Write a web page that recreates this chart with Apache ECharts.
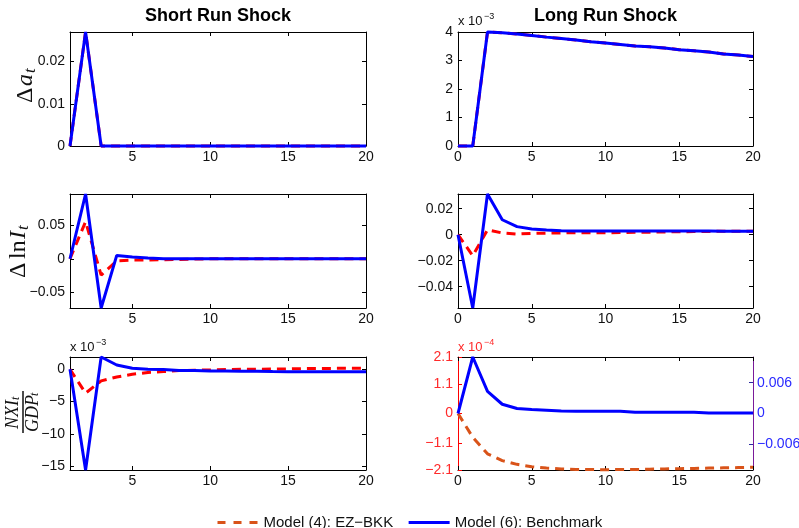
<!DOCTYPE html>
<html><head><meta charset="utf-8">
<script src="https://cdn.jsdelivr.net/npm/echarts@6/dist/echarts.min.js"></script>
<style>html,body{margin:0;padding:0;background:#fff}#c{width:799px;height:528px}</style>
</head><body><div id="c"></div>
<script>
// ---- data ----
const tShort = [1,2,3,4,5,6,7,8,9,10,11,12,13,14,15,16,17,18,19,20];
const tLong = [0,1,2,3,4,5,6,7,8,9,10,11,12,13,14,15,16,17,18,19,20];
const seriesNames = ['Model (4): EZ\u2212BKK', 'Model (6): Benchmark'];
const panelTitles = ['Short Run Shock', 'Long Run Shock'];

const aShortEZ    = [0,0.027,0,0,0,0,0,0,0,0,0,0,0,0,0,0,0,0,0,0];
const aShortBench = [0,0.027,0,0,0,0,0,0,0,0,0,0,0,0,0,0,0,0,0,0];
const aLongEZ     = [0,0,0.0040,0.00397,0.00393,0.00388,0.00382,0.00377,0.00372,0.00366,0.00361,0.00356,0.00351,0.00348,0.00344,0.00338,0.00334,0.00330,0.00323,0.00319,0.00314];
const aLongBench  = [0,0,0.0040,0.00397,0.00393,0.00388,0.00382,0.00377,0.00372,0.00366,0.00361,0.00356,0.00351,0.00348,0.00344,0.00338,0.00334,0.00330,0.00323,0.00319,0.00314];

const iShortEZ    = [0,0.056,-0.0247,-0.003,-0.002,-0.002,-0.0015,-0.001,-0.0005,0,0,0,0,0,0,0,0,0,0,0];
const iShortBench = [0,0.0976,-0.0742,0.005,0.0025,0.001,0,0,0,0,0,0,0,0,0,0,0,0,0,0];
const iLongEZ     = [0,-0.0162,0.0038,0.0013,0.0005,0.001,0.0012,0.0014,0.0015,0.0015,0.0015,0.0016,0.0018,0.0019,0.0021,0.0023,0.0024,0.0025,0.0026,0.0027,0.0027];
const iLongBench  = [0,-0.0564,0.0313,0.0115,0.0062,0.0044,0.0036,0.0030,0.0028,0.0028,0.0028,0.0028,0.0028,0.0028,0.0028,0.0028,0.0028,0.0028,0.0027,0.0027,0.0027];

const nxShortEZ    = [0,-0.0037,-0.0018,-0.0012,-0.00077,-0.0005,-0.00036,-0.0002,-0.00015,-0.0001,-0.00005,0,0,0.00003,0.00005,0.0001,0.00012,0.00014,0.00015,0.00015];
const nxShortBench = [0,-0.0156,0.0019,0.00066,0.00015,0,-0.00005,-0.0002,-0.0002,-0.00025,-0.00025,-0.0003,-0.0003,-0.00036,-0.0004,-0.0004,-0.0004,-0.0004,-0.0004,-0.0004];
const nxLongEZ     = [0,-0.885e-4,-1.5e-4,-1.75e-4,-1.89e-4,-1.98e-4,-2.03e-4,-2.06e-4,-2.08e-4,-2.08e-4,-2.09e-4,-2.08e-4,-2.08e-4,-2.07e-4,-2.06e-4,-2.05e-4,-2.04e-4,-2.03e-4,-2.02e-4,-2.01e-4,-2.0e-4];
const nxLongBench  = [0,0.011,0.0043,0.0018,0.00097,0.00078,0.00065,0.0005,0.00045,0.00045,0.00045,0.00045,0.00025,0.00025,0.00025,0.00025,0.00025,0.0001,0.0001,0.0001,0.0001];

const xTicksShort = [5,10,15,20];
const xTicksLong = [0,5,10,15,20];
const yTicksAShort = [0,0.01,0.02];
const yTicksALong = [0,0.001,0.002,0.003,0.004];
const yTicksIShort = [-0.05,0,0.05];
const yTicksILong = [-0.04,-0.02,0,0.02];
const yTicksNxShort = [-0.015,-0.01,-0.005,0];
const yTicksNxLongLeft = [-2.1e-4,-1.1e-4,0,1.1e-4,2.1e-4];
const yTicksNxLongRight = [-0.006,0,0.006];

// ---- layout ----
const colLeft = [70, 458], colWidth = [296, 295];
const rowTop = [32, 194, 357], rowHeight = [114, 114, 113];
const RED = '#ff0000', RED2 = '#d95319', BLUE = '#0000ff';
const FONT = 'Liberation Sans, Arial, Helvetica, sans-serif';
const MATH = 'Liberation Serif, Times New Roman, serif';

const minus = s => String(s).replace('-', '\u2212');
const fmt = (scale, dec) => v => {
  if (Math.abs(v) < 1e-12) return '0';
  return minus((v * scale).toFixed(dec));
};

const panels = [
  {r:0,c:0,x:tShort,ez:aShortEZ,bn:aShortBench,xmin:1,ymin:0,ymax:0.027,xt:xTicksShort,yt:yTicksAShort,f:fmt(1,2)},
  {r:0,c:1,x:tLong,ez:aLongEZ,bn:aLongBench,xmin:0,ymin:0,ymax:0.004,xt:xTicksLong,yt:yTicksALong,f:fmt(1000,0)},
  {r:1,c:0,x:tShort,ez:iShortEZ,bn:iShortBench,xmin:1,ymin:-0.0742,ymax:0.0976,xt:xTicksShort,yt:yTicksIShort,f:fmt(1,2)},
  {r:1,c:1,x:tLong,ez:iLongEZ,bn:iLongBench,xmin:0,ymin:-0.0564,ymax:0.0313,xt:xTicksLong,yt:yTicksILong,f:fmt(1,2)},
  {r:2,c:0,x:tShort,ez:nxShortEZ,bn:nxShortBench,xmin:1,ymin:-0.0156,ymax:0.0019,xt:xTicksShort,yt:yTicksNxShort,f:fmt(1000,0)},
  {r:2,c:1,x:tLong,ez:nxLongEZ,bn:nxLongBench,xmin:0,ymin:-2.1e-4,ymax:2.1e-4,xt:xTicksLong,yt:yTicksNxLongLeft,f:fmt(1e4,1),
   dual:true,ymin2:-0.011,ymax2:0.011,yt2:yTicksNxLongRight,f2:fmt(1,3)}
];

const grids = [], xAxes = [], yAxes = [], series = [];
panels.forEach((p, i) => {
  grids.push({left: colLeft[p.c], top: rowTop[p.r], width: colWidth[p.c], height: rowHeight[p.r], containLabel: false, outerBoundsMode: 'none'});
  const lineCol = '#000';
  const baseX = (pos, show) => ({
    type:'value', gridIndex:i, position:pos, min:p.xmin, max:20,
    axisLine:{show:true, onZero:false, lineStyle:{color:lineCol, width:1}},
    axisTick:{show:true, inside:true, length:4, customValues:p.xt, lineStyle:{color:lineCol}},
    axisLabel:{show:show, customValues:p.xt, margin:4, color:'#111', fontSize:14, fontFamily:FONT},
    splitLine:{show:false}
  });
  xAxes.push(baseX('bottom', true), baseX('top', false));
  const leftCol = p.dual ? RED : lineCol;
  yAxes.push({
    type:'value', gridIndex:i, position:'left', min:p.ymin, max:p.ymax,
    axisLine:{show:true, onZero:false, lineStyle:{color:leftCol, width:1}},
    axisTick:{show:true, inside:true, length:4, customValues:p.yt, lineStyle:{color:leftCol}},
    axisLabel:{show:true, customValues:p.yt, formatter:p.f, margin:5, color: p.dual ? '#ff2a2a' : '#111', fontSize:14, fontFamily:FONT},
    splitLine:{show:false}
  });
  if (p.dual) {
    yAxes.push({
      type:'value', gridIndex:i, position:'right', min:p.ymin2, max:p.ymax2,
      axisLine:{show:true, onZero:false, lineStyle:{color:'#7a1a9a', width:1}},
      axisTick:{show:true, inside:true, length:4, customValues:p.yt2, lineStyle:{color:'#2a2aa0'}},
      axisLabel:{show:true, customValues:p.yt2, formatter:p.f2, margin:4, color:'#2a2aff', fontSize:14, fontFamily:FONT},
      splitLine:{show:false}
    });
  } else {
    yAxes.push({
      type:'value', gridIndex:i, position:'right', min:p.ymin, max:p.ymax,
      axisLine:{show:true, onZero:false, lineStyle:{color:lineCol, width:1}},
      axisTick:{show:true, inside:true, length:4, customValues:p.yt, lineStyle:{color:lineCol}},
      axisLabel:{show:false},
      splitLine:{show:false}
    });
  }
  series.push({
    name: seriesNames[0], type:'line', xAxisIndex:2*i, yAxisIndex:2*i, symbol:'none', clip:false,
    data: p.x.map((t, k) => [t, p.ez[k]]),
    lineStyle:{color: p.dual ? RED2 : RED, width:3, type:[9,6]}, itemStyle:{color: p.dual ? RED2 : RED},
    z: 2, animation:false
  });
  series.push({
    name: seriesNames[1], type:'line', xAxisIndex:2*i, yAxisIndex: p.dual ? 2*i+1 : 2*i, symbol:'none', clip:false,
    data: p.x.map((t, k) => [t, p.bn[k]]),
    lineStyle:{color: BLUE, width:3}, itemStyle:{color: BLUE},
    z: 3, animation:false
  });
});

// ---- text decorations ----
function expLabel(x, y, exp, color) {
  return {type:'group', x:x, y:y, children:[
    {type:'text', x:0, y:0, style:{text:'x 10', fill:color, font:'13px ' + FONT, textAlign:'left', textVerticalAlign:'middle', align:'left', verticalAlign:'middle'}},
    {type:'text', x:26, y:-4, style:{text:exp, fill:color, font:'9px ' + FONT, textAlign:'left', textVerticalAlign:'middle', align:'left', verticalAlign:'middle'}}
  ]};
}
function t(txt, x, y, size, italic, va) {
  return {type:'text', x:x, y:y, style:{text:txt, fill:'#111', font:(italic ? 'italic ' : '') + size + 'px ' + MATH,
    textAlign:'left', textVerticalAlign:va || 'middle', align:'left', verticalAlign:va || 'middle'}};
}
const graphics = [
  {type:'text', x: colLeft[0] + colWidth[0]/2, y: 16, style:{text:panelTitles[0], fill:'#000', font:'bold 18px ' + FONT, textAlign:'center', textVerticalAlign:'middle', align:'center', verticalAlign:'middle'}},
  {type:'text', x: colLeft[1] + colWidth[1]/2, y: 16, style:{text:panelTitles[1], fill:'#000', font:'bold 18px ' + FONT, textAlign:'center', textVerticalAlign:'middle', align:'center', verticalAlign:'middle'}},
  expLabel(colLeft[1], rowTop[0] - 11, '\u22123', '#111'),
  expLabel(colLeft[0], rowTop[2] - 10, '\u22123', '#111'),
  expLabel(colLeft[1], rowTop[2] - 10, '\u22124', '#ff2a2a'),
  {type:'group', x:26, y:81, rotation:Math.PI/2, children:[
    t('\u0394', -22, 0, 24, false), t('a', -5, 0, 24, true), t('t', 8, 5, 17, true)
  ]},
  {type:'group', x:19, y:250, rotation:Math.PI/2, children:[
    t('\u0394', -28, 0, 24, false), t('ln', -9, 0, 24, false), t('I', 11, 0, 24, true), t('t', 20, 5, 17, true)
  ]},
  {type:'group', x:23, y:412, rotation:Math.PI/2, children:[
    t('NXI', -17, -1, 18, true, 'bottom'), t('t', 12, -1, 12, true, 'bottom'),
    {type:'line', shape:{x1:-21, y1:0, x2:21, y2:0}, style:{stroke:'#111', lineWidth:1.5}},
    t('GDP', -20, 1, 18, true, 'top'), t('t', 16, 6, 12, true, 'top')
  ]}
];

const chart = echarts.init(document.getElementById('c'), null, {renderer:'canvas'});
chart.setOption({
  animation:false,
  backgroundColor:'#fff',
  grid: grids, xAxis: xAxes, yAxis: yAxes, series: series,
  legend: {
    left: 211, top: 510, itemWidth: 41, itemHeight: 14, itemGap: 14,
    textStyle:{fontSize:15, fontFamily:FONT, color:'#111'},
    data:[
      {name: seriesNames[0], itemStyle:{color:'rgba(0,0,0,0)', borderWidth:0}, lineStyle:{color:RED2, width:3, type:[8,8]}},
      {name: seriesNames[1], itemStyle:{color:'rgba(0,0,0,0)', borderWidth:0}, lineStyle:{color:BLUE, width:3}}
    ]
  },
  graphic: graphics
});
</script></body></html>
